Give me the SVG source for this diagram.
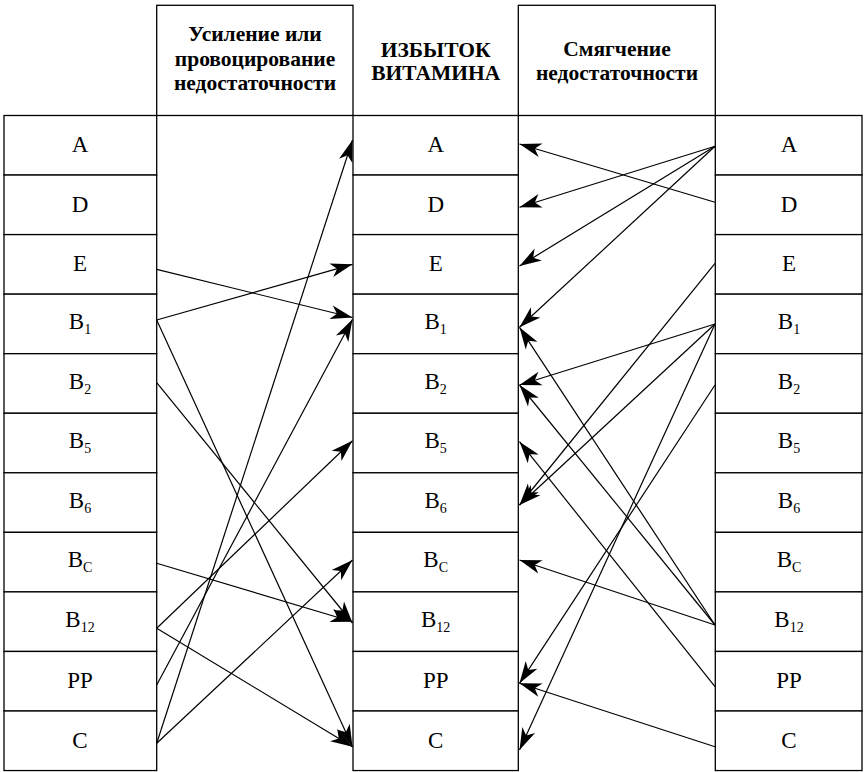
<svg xmlns="http://www.w3.org/2000/svg" width="864" height="772" viewBox="0 0 864 772">
<style>
.cell{fill:#fff;stroke:#000;stroke-width:1.3}
.lbl{font-family:'Liberation Serif',serif;font-size:23px;text-anchor:middle;fill:#000}
.sub{font-size:14px}
.hdr{font-family:'Liberation Serif',serif;font-size:21.5px;font-weight:bold;text-anchor:middle;fill:#000}
.arr{stroke:#000;stroke-width:1.2;fill:none;marker-end:url(#ah)}
</style>
<defs>
<marker id="ah" viewBox="-24 -9 26 18" refX="0" refY="0" markerWidth="26" markerHeight="18" markerUnits="userSpaceOnUse" orient="auto">
<path d="M0,0 L-22,-7 L-16,0 L-22,7 Z" fill="#000"/>
</marker>
</defs>
<rect width="864" height="772" fill="#fff"/>

<g id="hdr-left" font-family="Liberation Serif, serif"><rect class="cell" x="156.7" y="5.3" width="196.3" height="110.2"/>
<text class="hdr" x="255" y="40.5">Усиление или</text>
<text class="hdr" x="255" y="65.5">провоцирование</text>
<text class="hdr" x="255" y="90">недостаточности</text></g>
<g id="hdr-mid" font-family="Liberation Serif, serif"><text class="hdr" x="435.7" y="56.5">ИЗБЫТОК</text>
<text class="hdr" x="435.7" y="80">ВИТАМИНА</text></g>
<g id="hdr-right" font-family="Liberation Serif, serif"><rect class="cell" x="518.3" y="5.3" width="197" height="110.2"/>
<text class="hdr" x="617" y="55.5">Смягчение</text>
<text class="hdr" x="617" y="80">недостаточности</text></g>

<g id="L-A"><rect class="cell" x="4" y="115.5" width="152.7" height="59.55"/><text class="lbl" x="80" y="152">A</text></g>
<g id="L-D"><rect class="cell" x="4" y="175.05" width="152.7" height="59.55"/><text class="lbl" x="80" y="211.5">D</text></g>
<g id="L-E"><rect class="cell" x="4" y="234.6" width="152.7" height="59.55"/><text class="lbl" x="80" y="271.1">E</text></g>
<g id="L-B1"><rect class="cell" x="4" y="294.15" width="152.7" height="59.55"/><text class="lbl" x="80" y="329">B<tspan class="sub" dy="5">1</tspan></text></g>
<g id="L-B2"><rect class="cell" x="4" y="353.7" width="152.7" height="59.55"/><text class="lbl" x="80" y="388.5">B<tspan class="sub" dy="5">2</tspan></text></g>
<g id="L-B5"><rect class="cell" x="4" y="413.25" width="152.7" height="59.55"/><text class="lbl" x="80" y="448">B<tspan class="sub" dy="5">5</tspan></text></g>
<g id="L-B6"><rect class="cell" x="4" y="472.8" width="152.7" height="59.55"/><text class="lbl" x="80" y="507.6">B<tspan class="sub" dy="5">6</tspan></text></g>
<g id="L-BC"><rect class="cell" x="4" y="532.35" width="152.7" height="59.55"/><text class="lbl" x="80" y="567.1">B<tspan class="sub" dy="5">C</tspan></text></g>
<g id="L-B12"><rect class="cell" x="4" y="591.9" width="152.7" height="59.55"/><text class="lbl" x="80" y="626.7">B<tspan class="sub" dy="5">12</tspan></text></g>
<g id="L-PP"><rect class="cell" x="4" y="651.45" width="152.7" height="59.55"/><text class="lbl" x="80" y="687.9">PP</text></g>
<g id="L-C"><rect class="cell" x="4" y="711" width="152.7" height="59.55"/><text class="lbl" x="80" y="747.5">C</text></g>

<g id="M-A"><rect class="cell" x="353" y="115.5" width="165.3" height="59.55"/><text class="lbl" x="435.7" y="152">A</text></g>
<g id="M-D"><rect class="cell" x="353" y="175.05" width="165.3" height="59.55"/><text class="lbl" x="435.7" y="211.5">D</text></g>
<g id="M-E"><rect class="cell" x="353" y="234.6" width="165.3" height="59.55"/><text class="lbl" x="435.7" y="271.1">E</text></g>
<g id="M-B1"><rect class="cell" x="353" y="294.15" width="165.3" height="59.55"/><text class="lbl" x="435.7" y="329">B<tspan class="sub" dy="5">1</tspan></text></g>
<g id="M-B2"><rect class="cell" x="353" y="353.7" width="165.3" height="59.55"/><text class="lbl" x="435.7" y="388.5">B<tspan class="sub" dy="5">2</tspan></text></g>
<g id="M-B5"><rect class="cell" x="353" y="413.25" width="165.3" height="59.55"/><text class="lbl" x="435.7" y="448">B<tspan class="sub" dy="5">5</tspan></text></g>
<g id="M-B6"><rect class="cell" x="353" y="472.8" width="165.3" height="59.55"/><text class="lbl" x="435.7" y="507.6">B<tspan class="sub" dy="5">6</tspan></text></g>
<g id="M-BC"><rect class="cell" x="353" y="532.35" width="165.3" height="59.55"/><text class="lbl" x="435.7" y="567.1">B<tspan class="sub" dy="5">C</tspan></text></g>
<g id="M-B12"><rect class="cell" x="353" y="591.9" width="165.3" height="59.55"/><text class="lbl" x="435.7" y="626.7">B<tspan class="sub" dy="5">12</tspan></text></g>
<g id="M-PP"><rect class="cell" x="353" y="651.45" width="165.3" height="59.55"/><text class="lbl" x="435.7" y="687.9">PP</text></g>
<g id="M-C"><rect class="cell" x="353" y="711" width="165.3" height="59.55"/><text class="lbl" x="435.7" y="747.5">C</text></g>

<g id="R-A"><rect class="cell" x="715.3" y="115.5" width="146.7" height="59.55"/><text class="lbl" x="789" y="152">A</text></g>
<g id="R-D"><rect class="cell" x="715.3" y="175.05" width="146.7" height="59.55"/><text class="lbl" x="789" y="211.5">D</text></g>
<g id="R-E"><rect class="cell" x="715.3" y="234.6" width="146.7" height="59.55"/><text class="lbl" x="789" y="271.1">E</text></g>
<g id="R-B1"><rect class="cell" x="715.3" y="294.15" width="146.7" height="59.55"/><text class="lbl" x="789" y="329">B<tspan class="sub" dy="5">1</tspan></text></g>
<g id="R-B2"><rect class="cell" x="715.3" y="353.7" width="146.7" height="59.55"/><text class="lbl" x="789" y="388.5">B<tspan class="sub" dy="5">2</tspan></text></g>
<g id="R-B5"><rect class="cell" x="715.3" y="413.25" width="146.7" height="59.55"/><text class="lbl" x="789" y="448">B<tspan class="sub" dy="5">5</tspan></text></g>
<g id="R-B6"><rect class="cell" x="715.3" y="472.8" width="146.7" height="59.55"/><text class="lbl" x="789" y="507.6">B<tspan class="sub" dy="5">6</tspan></text></g>
<g id="R-BC"><rect class="cell" x="715.3" y="532.35" width="146.7" height="59.55"/><text class="lbl" x="789" y="567.1">B<tspan class="sub" dy="5">C</tspan></text></g>
<g id="R-B12"><rect class="cell" x="715.3" y="591.9" width="146.7" height="59.55"/><text class="lbl" x="789" y="626.7">B<tspan class="sub" dy="5">12</tspan></text></g>
<g id="R-PP"><rect class="cell" x="715.3" y="651.45" width="146.7" height="59.55"/><text class="lbl" x="789" y="687.9">PP</text></g>
<g id="R-C"><rect class="cell" x="715.3" y="711" width="146.7" height="59.55"/><text class="lbl" x="789" y="747.5">C</text></g>

<g id="connectors">
<line class="arr" x1="156.7" y1="743.3" x2="352.5" y2="140"/>
<line class="arr" x1="156.7" y1="269.3" x2="352.5" y2="317.5"/>
<line class="arr" x1="156.7" y1="320" x2="352.5" y2="264.3"/>
<line class="arr" x1="156.7" y1="685" x2="352.5" y2="319.3"/>
<line class="arr" x1="156.7" y1="320" x2="352.5" y2="746.7"/>
<line class="arr" x1="156.7" y1="382.7" x2="352.5" y2="623"/>
<line class="arr" x1="156.7" y1="628.3" x2="352.5" y2="440.7"/>
<line class="arr" x1="156.7" y1="563.3" x2="352.5" y2="621.7"/>
<line class="arr" x1="156.7" y1="628.3" x2="352.5" y2="746.7"/>
<line class="arr" x1="156.7" y1="743.3" x2="352.5" y2="560"/>

<line class="arr" x1="715" y1="146.3" x2="519.5" y2="207.3"/>
<line class="arr" x1="715" y1="146.3" x2="519.5" y2="266"/>
<line class="arr" x1="715" y1="146.3" x2="519.5" y2="327.3"/>
<line class="arr" x1="715" y1="202.3" x2="519.5" y2="144"/>
<line class="arr" x1="715" y1="263.3" x2="519.5" y2="505"/>
<line class="arr" x1="715" y1="324" x2="519.5" y2="385"/>
<line class="arr" x1="715" y1="324" x2="519.5" y2="505"/>
<line class="arr" x1="715" y1="324" x2="519.5" y2="750"/>
<line class="arr" x1="715" y1="385" x2="519.5" y2="683.3"/>
<line class="arr" x1="715" y1="625" x2="519.5" y2="327.3"/>
<line class="arr" x1="715" y1="625" x2="519.5" y2="385"/>
<line class="arr" x1="715" y1="625" x2="519.5" y2="560"/>
<line class="arr" x1="715" y1="686.7" x2="519.5" y2="441.7"/>
<line class="arr" x1="715" y1="746.7" x2="519.5" y2="683.3"/>
</g>
</svg>
